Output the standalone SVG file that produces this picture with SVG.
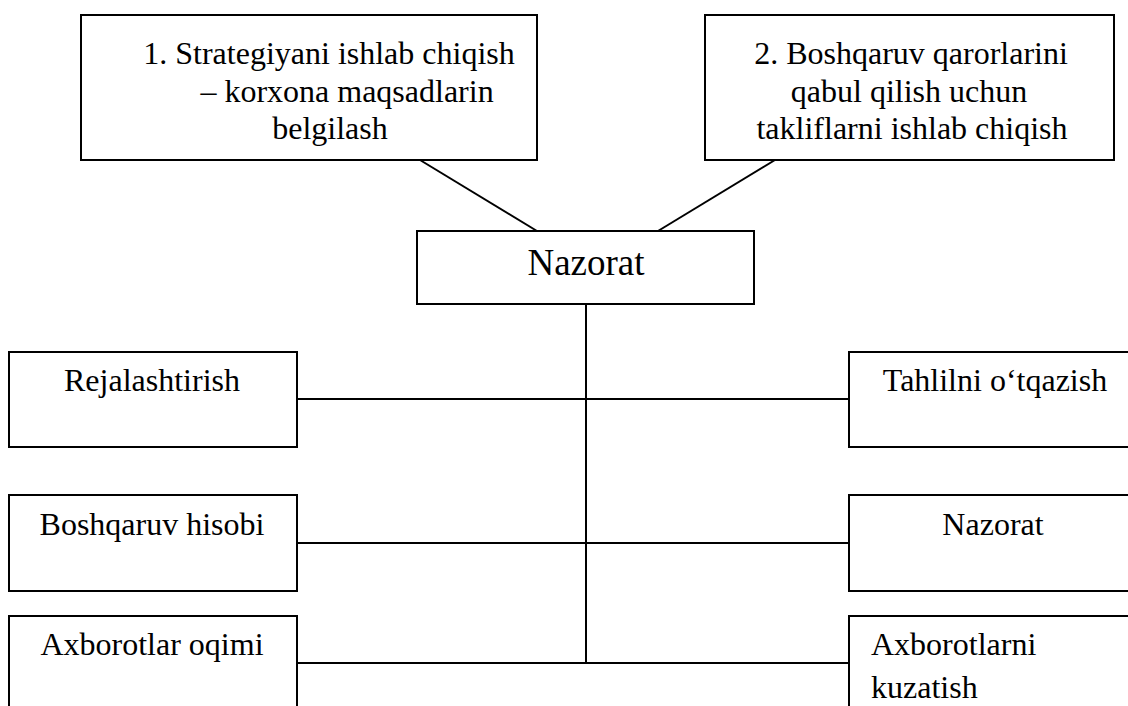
<svg xmlns="http://www.w3.org/2000/svg" width="1128" height="706" viewBox="0 0 1128 706">
  <style>
    .box { fill: #ffffff; stroke: #000000; stroke-width: 2; }
    .link { stroke: #000000; stroke-width: 2; fill: none; }
    .mid { text-anchor: middle; }
  </style>
  <rect width="1128" height="706" fill="#ffffff"/>

  <!-- connectors -->
  <g id="connectors">
    <line class="link" x1="420" y1="160" x2="537" y2="231"/>
    <line class="link" x1="775" y1="160" x2="658" y2="231"/>
    <line class="link" x1="586" y1="304" x2="586" y2="663"/>
    <line class="link" x1="297" y1="399" x2="849" y2="399"/>
    <line class="link" x1="297" y1="543" x2="849" y2="543"/>
    <line class="link" x1="297" y1="663" x2="849" y2="663"/>
  </g>

  <g font-family="Liberation Serif, Times New Roman, DejaVu Serif, serif" font-size="32" fill="#000000">
    <g id="node-strategy">
      <rect class="box" x="81" y="15" width="456" height="145"/>
      <text class="mid" x="329" y="64">1. Strategiyani ishlab chiqish</text>
      <text class="mid" x="347" y="102">– korxona maqsadlarin</text>
      <text class="mid" x="330" y="139">belgilash</text>
    </g>

    <g id="node-proposals">
      <rect class="box" x="705" y="15" width="409" height="145"/>
      <text class="mid" x="911" y="64">2. Boshqaruv qarorlarini</text>
      <text class="mid" x="909" y="102">qabul qilish uchun</text>
      <text class="mid" x="912" y="139">takliflarni ishlab chiqish</text>
    </g>

    <g id="node-control-main">
      <rect class="box" x="417" y="231" width="337" height="73"/>
      <text class="mid" x="586" y="275" font-size="37">Nazorat</text>
    </g>

    <g id="node-planning">
      <rect class="box" x="9" y="352" width="288" height="95"/>
      <text class="mid" x="152" y="391">Rejalashtirish</text>
    </g>

    <g id="node-analysis">
      <rect class="box" x="849" y="352" width="290" height="95"/>
      <text class="mid" x="995" y="391">Tahlilni o‘tqazish</text>
    </g>

    <g id="node-accounting">
      <rect class="box" x="9" y="495" width="288" height="96"/>
      <text class="mid" x="152" y="535">Boshqaruv hisobi</text>
    </g>

    <g id="node-control">
      <rect class="box" x="849" y="495" width="290" height="96"/>
      <text class="mid" x="993" y="535">Nazorat</text>
    </g>

    <g id="node-info-flow">
      <rect class="box" x="9" y="616" width="288" height="110"/>
      <text class="mid" x="152" y="655">Axborotlar oqimi</text>
    </g>

    <g id="node-info-watch">
      <rect class="box" x="849" y="616" width="290" height="110"/>
      <text x="871" y="655">Axborotlarni</text>
      <text x="871" y="698">kuzatish</text>
    </g>
  </g>
</svg>
